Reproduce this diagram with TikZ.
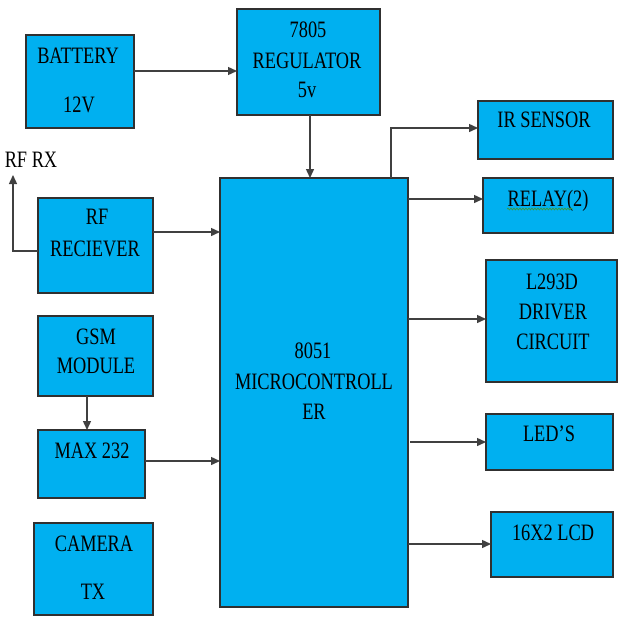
\documentclass[tikz,border=0pt]{standalone}
\usepackage{graphicx}
\usepackage{fontspec}
\setmainfont{Liberation Serif}
\newcommand{\sqz}[1]{\scalebox{0.78}[1]{#1}}
\usetikzlibrary{arrows.meta,decorations.pathmorphing}
\definecolor{boxfill}{HTML}{00B0F0}
\definecolor{edge}{HTML}{303030}
\definecolor{wire}{HTML}{404040}
\definecolor{spell}{HTML}{3C9A3C}
\tikzset{
  blk/.style={draw=edge, line width=1.3pt, fill=boxfill, anchor=north west, inner sep=0pt, outer sep=0pt},
  lbl/.style={anchor=base, inner sep=0pt, font=\rmfamily\fontsize{23.5}{28}\selectfont, text=black},
  arr/.style={draw=wire, line width=1.4pt, -{Triangle[length=9pt,width=8pt]}}
}
\begin{document}
\begin{tikzpicture}[x=1pt,y=-1pt]
\useasboundingbox (0,0) rectangle (620,616);
\fill[white] (0,0) rectangle (620,616);
% boxes
\node[blk, minimum width=108pt, minimum height=93pt] (bat) at (26,35) {};
\node[blk, minimum width=143pt, minimum height=106pt] (reg) at (237,9) {};
\node[blk, minimum width=188pt, minimum height=429pt] (mcu) at (220,178) {};
\node[blk, minimum width=115pt, minimum height=95pt] (rf) at (38,198) {};
\node[blk, minimum width=115pt, minimum height=80pt] (gsm) at (38,316) {};
\node[blk, minimum width=107pt, minimum height=68pt] (max) at (38,430) {};
\node[blk, minimum width=119pt, minimum height=92pt] (cam) at (34,523) {};
\node[blk, minimum width=135pt, minimum height=58pt] (ir) at (478,101) {};
\node[blk, minimum width=130pt, minimum height=55pt] (rly) at (483,178) {};
\node[blk, minimum width=131pt, minimum height=122pt] (drv) at (486,260) {};
\node[blk, minimum width=127pt, minimum height=56pt] (led) at (486,414) {};
\node[blk, minimum width=122pt, minimum height=65pt] (lcd) at (491,512) {};
% labels
\node[lbl] (batA) at (78,63) {\sqz{BATTERY}};
\node[lbl] (batB) at (79,112) {\sqz{12V}};
\node[lbl] (regA) at (308,37) {\sqz{7805}};
\node[lbl] (regB) at (307,68) {\sqz{REGULATOR}};
\node[lbl] (regC) at (307,97) {\sqz{5v}};
\node[lbl] (mcuA) at (313,358) {\sqz{8051}};
\node[lbl] (mcuB) at (314,389) {\sqz{MICROCONTROLL}};
\node[lbl] (mcuC) at (314,419) {\sqz{ER}};
\node[lbl] (rfA) at (97,224) {\sqz{RF}};
\node[lbl] (rfB) at (95,256) {\sqz{RECIEVER}};
\node[lbl] (gsmA) at (96,344) {\sqz{GSM}};
\node[lbl] (gsmB) at (96,373) {\sqz{MODULE}};
\node[lbl] (maxA) at (92,458) {\sqz{MAX 232}};
\node[lbl] (camA) at (94,551) {\sqz{CAMERA}};
\node[lbl] (camB) at (93,599) {\sqz{TX}};
\node[lbl] (irA) at (544,127) {\sqz{IR SENSOR}};
\node[lbl] (rlyA) at (548,206) {\sqz{RELAY(2)}};
\node[lbl] (drvA) at (552,289) {\sqz{L293D}};
\node[lbl] (drvB) at (553,319) {\sqz{DRIVER}};
\node[lbl] (drvC) at (553,349) {\sqz{CIRCUIT}};
\node[lbl] (ledA) at (549,441) {\sqz{LED’S}};
\node[lbl] (lcdA) at (553,540) {\sqz{16X2 LCD}};
\node[lbl] (rfrx) at (31,167) {\sqz{RF RX}};
\coordinate (rfcorner) at (13,251);
\coordinate (rftip) at (13,175);
\coordinate (ircorner) at (391,128);
% spell-check underline
\draw[spell, line width=0.7pt, decorate, decoration={snake, amplitude=0.9pt, segment length=3pt}] (507,209) -- (573,209);
% connectors
\draw[arr] (bat.east |- 0,71) -- (reg.west |- 0,71);
\draw[arr] (reg.south -| 310,0) -- (mcu.north -| 310,0);
\draw[arr] (rf.east |- 0,232) -- (mcu.west |- 0,232);
\draw[arr] (gsm.south -| 87,0) -- (max.north -| 87,0);
\draw[arr] (max.east |- 0,461) -- (mcu.west |- 0,461);
\draw[arr] (rf.west |- rfcorner) -- (rfcorner) -- (rftip);
\draw[arr] (mcu.north -| ircorner) -- (ircorner) -- (ir.west |- ircorner);
\draw[arr] (mcu.east |- 0,199) -- (rly.west |- 0,199);
\draw[arr] (mcu.east |- 0,319) -- (drv.west |- 0,319);
\draw[arr] (410,442) -- (led.west |- 0,442);
\draw[arr] (mcu.east |- 0,544) -- (lcd.west |- 0,544);
\end{tikzpicture}
\end{document}
